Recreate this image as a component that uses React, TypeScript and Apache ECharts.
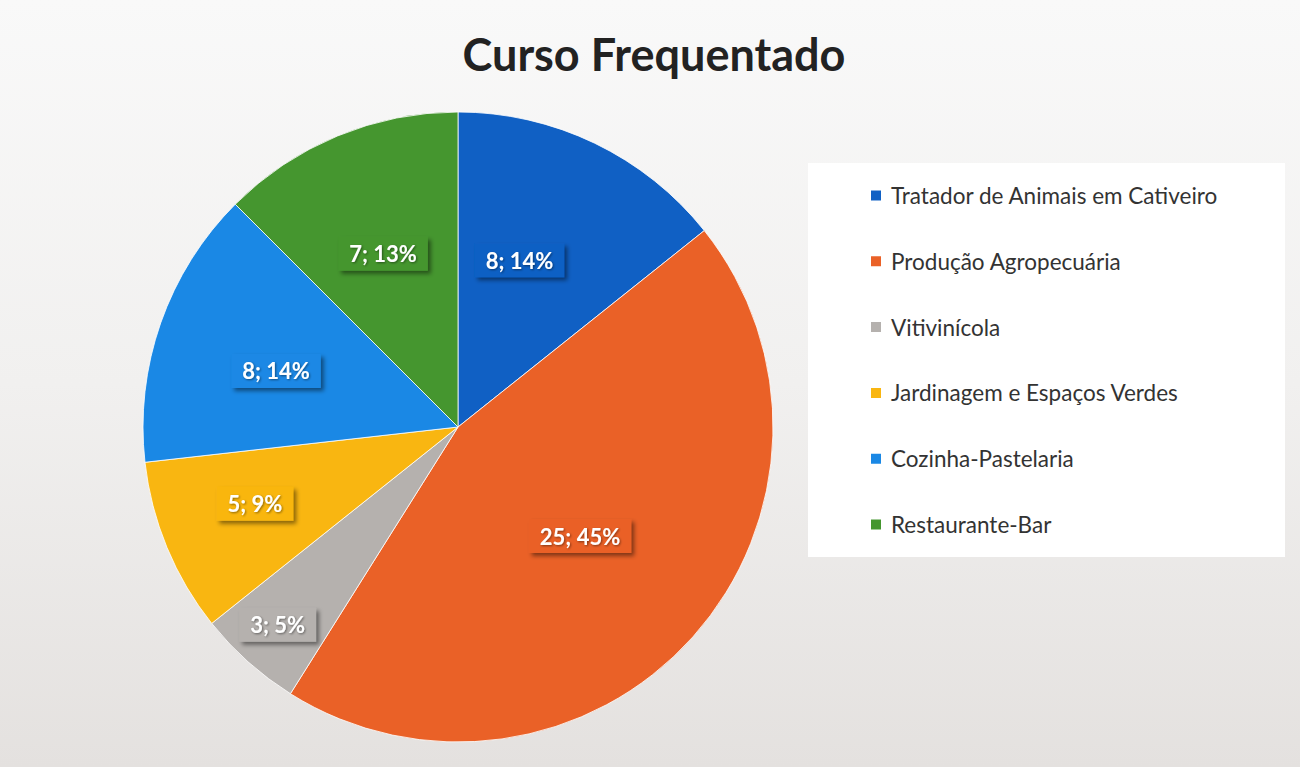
import React, { useEffect, useRef } from "react";
import * as echarts from "echarts";

const title = "Curso Frequentado";
const categories = [
  "Tratador de Animais em Cativeiro",
  "Produção Agropecuária",
  "Vitivinícola",
  "Jardinagem e Espaços Verdes",
  "Cozinha-Pastelaria",
  "Restaurante-Bar",
];
const values = [8, 25, 3, 5, 8, 7];
const colors = ["#1060c4", "#ea6127", "#b5b1ae", "#f9b611", "#1a88e5", "#45962f"];
// label placement: fraction of the radius and shift (degrees) from the slice's mid-angle
const labelFractions = [0.555, 0.51, 0.84, 0.68, 0.595, 0.59];
const labelAngleShift = [-5.6, 0, 0.6, 1.8, -2.2, -0.9];

const RADIUS = 315;
const CENTER = [458, 427];

export default function App() {
  const ref = useRef<HTMLDivElement>(null);
  useEffect(() => {
    document.body.style.margin = "0";
    const chart = echarts.init(ref.current!, null, { renderer: "svg" });
    const total = values.reduce((a, b) => a + b, 0);
    let cum = 0;
    const data = values.map((v, i) => {
      const mid = ((cum + v / 2) / total) * Math.PI * 2;
      cum += v;
      const target = mid + (labelAngleShift[i] * Math.PI) / 180;
      const rt = labelFractions[i] * RADIUS;
      const r0 = 0.5 * RADIUS;
      const ox = rt * Math.sin(target) - r0 * Math.sin(mid);
      const oy = -rt * Math.cos(target) + r0 * Math.cos(mid);
      return {
        name: categories[i],
        value: v,
        itemStyle: { color: colors[i] },
        label: {
          backgroundColor: colors[i],
          offset: [ox, oy],
        },
      };
    });
    chart.setOption({
      animation: false,
      graphic: [
        {
          type: "rect",
          z: -10,
          silent: true,
          shape: { x: 0, y: 0, width: 1300, height: 767 },
          style: {
            fill: new echarts.graphic.LinearGradient(0, 0, 0, 1, [
              { offset: 0, color: "#f9f9f9" },
              { offset: 0.5, color: "#f1f0ef" },
              { offset: 1, color: "#e4e1df" },
            ]),
          },
        },
        {
          type: "rect",
          z: -5,
          silent: true,
          shape: { x: 808, y: 163, width: 477, height: 394 },
          style: { fill: "#ffffff" },
        },
      ],
      title: {
        text: title,
        left: 649,
        textAlign: "center",
        top: 26,
        textStyle: {
          fontFamily: "Lato",
          fontWeight: "bold",
          fontSize: 45,
          color: "#222222",
        },
      },
      legend: {
        orient: "vertical",
        left: 869,
        top: 184,
        padding: 0,
        itemWidth: 12,
        itemHeight: 12,
        itemGap: 42.8,
        icon: "rect",
        textStyle: {
          fontFamily: "Lato",
          fontSize: 22.5,
          lineHeight: 22,
          color: "#333333",
          padding: [0, 0, 0, 4],
        },
        data: categories,
      },
      series: [
        {
          type: "pie",
          center: CENTER,
          radius: RADIUS,
          startAngle: 90,
          clockwise: true,
          percentPrecision: 0,
          itemStyle: { borderColor: "#ffffff", borderWidth: 0.8 },
          label: {
            show: true,
            position: "inside",
            formatter: "{c}; {d}%",
            fontFamily: "Lato",
            fontWeight: "bold",
            fontSize: 22,
            color: "#ffffff",
            padding: [6, 11, 6, 11],
            shadowColor: "rgba(0,0,0,0.45)",
            shadowBlur: 4,
            shadowOffsetX: 3,
            shadowOffsetY: 3,
            textShadowColor: "rgba(0,0,0,0.45)",
            textShadowBlur: 2,
            textShadowOffsetX: 1,
            textShadowOffsetY: 1,
          },
          labelLine: { show: false },
          emphasis: { disabled: true },
          data,
        },
      ],
    });
    return () => chart.dispose();
  }, []);
  return (
    <div
      ref={ref}
      style={{ position: "absolute", left: 0, top: 0, width: 1300, height: 767 }}
    />
  );
}
